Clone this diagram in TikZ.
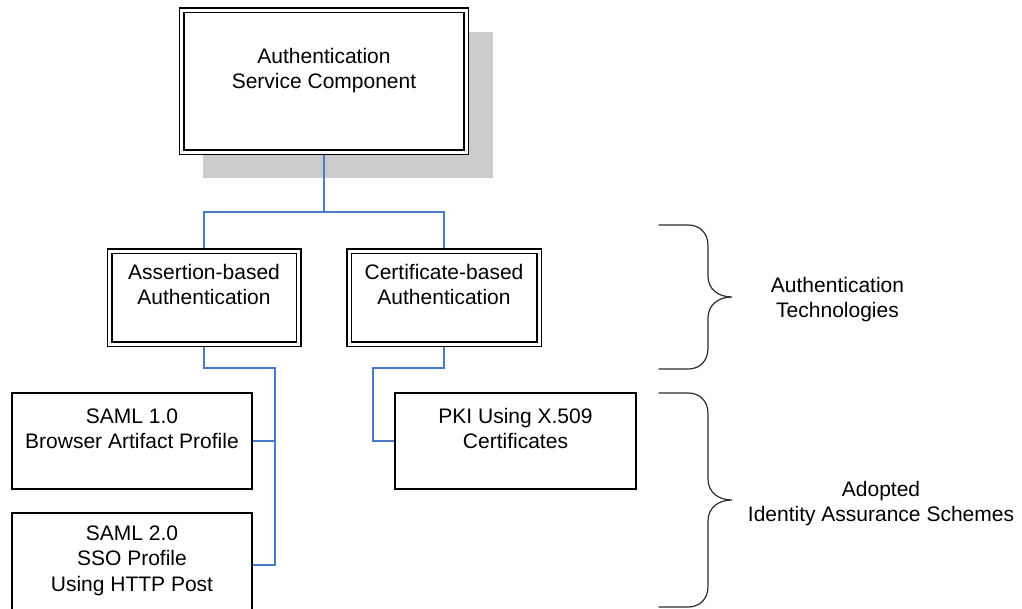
\documentclass[tikz,border=0pt]{standalone}
\usepackage{fontspec}
\setmainfont{Liberation Sans}
\usetikzlibrary{backgrounds}
\definecolor{linkblue}{RGB}{74,123,200}
\definecolor{shadowgray}{RGB}{204,204,204}
\definecolor{bracegray}{RGB}{45,45,45}
% first line of a box label, a little taller than a strut
\newcommand\headstrut{\rule[-7.5pt]{0pt}{29pt}}
% last line of a box label, a little deeper than a strut
\newcommand\deepstrut{\rule[-11.5pt]{0pt}{29pt}}
\begin{document}
\begin{tikzpicture}[x=1pt,y=-1pt,
  every node/.style={font=\fontsize{21}{25}\selectfont, align=center, inner sep=0pt},
  dblbox/.style={draw=black, fill=white, double=white, double distance=3pt, line width=1.5pt},
  plainbox/.style={draw=black, fill=white, line width=1.5pt},
  conn/.style={draw=linkblue, line width=1.6pt},
  bracket/.style={draw=bracegray, line width=1.2pt, line cap=round}]
\useasboundingbox (0,0) rectangle (1022,608);

% component boxes
\node[dblbox, minimum width=284.5pt, minimum height=142pt] (svc) at (324,81)
  {\headstrut Authentication\\\strut Service Component\\\strut};
\node[dblbox, minimum width=189pt, minimum height=93pt] (assert) at (204,297.5)
  {\headstrut Assertion-based\\\strut Authentication\\\strut};
\node[dblbox, minimum width=190pt, minimum height=93pt] (cert) at (444,297.5)
  {\headstrut Certificate-based\\\strut Authentication\\\strut};
\node[plainbox, minimum width=240pt, minimum height=96pt] (saml1) at (132,441)
  {\headstrut SAML 1.0\\\strut Browser Artifact Profile\\\strut};
\node[plainbox, minimum width=240pt, minimum height=100pt] (saml2) at (132,563)
  {\strut SAML 2.0\\\strut SSO Profile\\\deepstrut Using HTTP Post};
\node[plainbox, minimum width=241pt, minimum height=96pt] (pki) at (515.5,441)
  {\headstrut PKI Using X.509\\\strut Certificates\\\strut};

% bend points of the connectors
\coordinate (busTop) at (324,212);
\coordinate (busLeft) at (275,368);
\coordinate (busRight) at (373,368);

\begin{scope}[on background layer]
  % drop shadow of the service component
  \fill[shadowgray] (203,32) rectangle (493,178);
  % tree connectors
  \draw[conn] (svc.south) -- (busTop);
  \draw[conn] (assert.north) |- (busTop) -| (cert.north);
  \draw[conn] (assert.south) |- (busLeft) |- ([yshift=-2pt]saml2.east);
  \draw[conn] (saml1.east) -- (saml1.east -| busLeft);
  \draw[conn] (cert.south) |- (busRight) |- (pki.west);
\end{scope}

% curly brackets grouping the levels
\draw[bracket] (659,225) -- (688,225)
  .. controls (700,225) and (708,233) .. (708,246) -- (708,276)
  .. controls (708,289) and (718,297) .. (732,297)
  .. controls (718,297) and (708,305) .. (708,318) -- (708,348)
  .. controls (708,361) and (700,369) .. (688,369) -- (659,369);
\draw[bracket] (659,393) -- (688,393)
  .. controls (700,393) and (708,401) .. (708,414) -- (708,479)
  .. controls (708,492) and (718,500) .. (732,500)
  .. controls (718,500) and (708,508) .. (708,521) -- (708,586)
  .. controls (708,599) and (700,607) .. (688,607) -- (659,607);

\node (tech) at (837.5,299.5) {Authentication\\Technologies};
\node (schemes) at (881,504) {Adopted\\Identity Assurance Schemes};
\end{tikzpicture}
\end{document}
